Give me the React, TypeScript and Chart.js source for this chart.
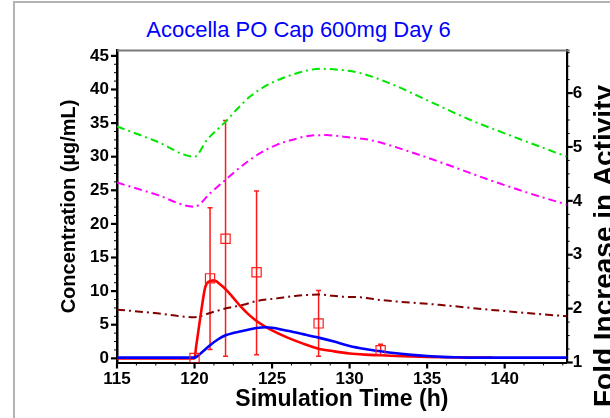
import React, { useEffect, useRef } from "react";
import { Chart, registerables } from "chart.js";

Chart.register(...registerables);

// ---- simulated plasma concentration (µg/mL) ----
const parentTime = [115, 116, 117, 118, 119, 120, 120.1, 120.38, 120.69, 120.9, 121.28, 121.6, 122, 122.5, 123, 123.5, 124, 124.5, 125, 126, 127, 128, 129, 130, 131, 132, 133, 134, 135, 136, 137, 138, 139.2];
const parentConc = [0, 0, 0, 0, 0, 0, 1.7, 6.2, 10.6, 11.4, 11.6, 11.1, 10.3, 9.0, 7.65, 6.5, 5.56, 4.8, 4.17, 3.08, 2.19, 1.44, 1.04, 0.72, 0.55, 0.45, 0.35, 0.28, 0.22, 0.17, 0.14, 0.12, 0.1];

const metaboliteTime = [115, 120, 120.2, 120.5, 121, 121.5, 122, 122.5, 123, 123.5, 124, 124.6, 125, 126, 127, 128, 129, 130, 131, 132, 133, 134, 135, 136, 137, 138, 139, 144];
const metaboliteConc = [0.1, 0.1, 0.35, 0.95, 1.95, 2.8, 3.43, 3.78, 4.02, 4.28, 4.5, 4.62, 4.55, 4.1, 3.6, 3.08, 2.5, 1.85, 1.4, 1.05, 0.75, 0.52, 0.35, 0.22, 0.15, 0.1, 0.1, 0.1];

// ---- observed concentrations with error bars ----
const obsTime = [120, 121, 122, 124, 128, 132];
const obsConc = [0.05, 11.9, 17.8, 12.8, 5.2, 1.2];
const obsLow = [0.05, 1.3, 0.3, 0.55, 0.3, 0.55];
const obsHigh = [0.05, 22.4, 35.4, 24.9, 10.1, 2.1];

// ---- fold increase in activity (right axis) ----
const foldATime = [115, 117.5, 120, 120.8, 122, 122.7, 123.6, 124.7, 125.7, 127, 128.1, 129.4, 130.7, 132.6, 135.2, 137.8, 140.3, 144];
const foldA = [5.38, 5.11, 4.82, 5.13, 5.47, 5.69, 5.94, 6.15, 6.28, 6.4, 6.45, 6.43, 6.37, 6.18, 5.84, 5.5, 5.22, 4.82];

const foldBTime = [115, 117.5, 120, 121, 122, 123.15, 124.2, 125.3, 126.4, 127.45, 128.5, 129.6, 131.3, 133.9, 136.5, 139, 141.6, 144];
const foldB = [4.34, 4.12, 3.89, 4.14, 4.39, 4.67, 4.88, 5.04, 5.14, 5.21, 5.22, 5.19, 5.13, 4.91, 4.65, 4.39, 4.14, 3.93];

const foldCTime = [115, 117.4, 120, 121, 122.1, 123.15, 124, 125.3, 126.6, 128, 129.6, 130.7, 132, 135.8, 139, 143.5, 144];
const foldC = [1.98, 1.92, 1.84, 1.92, 2.01, 2.07, 2.14, 2.19, 2.24, 2.26, 2.22, 2.21, 2.16, 2.07, 1.98, 1.87, 1.86];

// ---- axis ticks ----
const timeTicks = [115, 120, 125, 130, 135, 140];
const concTicks = [0, 5, 10, 15, 20, 25, 30, 35, 40, 45];
const foldTicks = [1, 2, 3, 4, 5, 6];
const MINOR_DIVISIONS = 4;

const TIME_MIN = 115, TIME_MAX = 144;
const CONC_MIN = -0.62, CONC_MAX = 45.8;
const FOLD_MIN = 1, FOLD_MAX = 6.79;

const FONT = '"Liberation Sans", Arial, Helvetica, sans-serif';

const pts = (xs: number[], ys: number[]) => xs.map((x, i) => ({ x, y: ys[i] }));

// major ticks plus evenly spaced minor ticks inside [min, max]
function tickValues(majors: number[], min: number, max: number) {
  const step = (majors[1] - majors[0]) / MINOR_DIVISIONS;
  const out: number[] = [];
  let v = majors[0];
  while (v - step >= min - 1e-9) v -= step;
  for (; v <= max + 1e-9; v += step) out.push(Math.round(v * 1000) / 1000);
  return out;
}
const isMajor = (majors: number[], v: number) => majors.some((m) => Math.abs(m - v) < 1e-6);

// tick marks (major + minor) and the top frame line
const axisMarks = {
  id: "axisMarks",
  afterDraw(chart: any) {
    const { ctx, chartArea: a, scales } = chart;
    ctx.save();
    ctx.strokeStyle = "#7a7a7a";
    ctx.lineWidth = 2;
    ctx.beginPath();
    ctx.moveTo(a.left, a.top);
    ctx.lineTo(a.right + 3, a.top);
    ctx.stroke();

    ctx.strokeStyle = "#000";
    const draw = (scale: any, majors: number[], side: "bottom" | "left" | "right") => {
      for (const t of scale.ticks) {
        const major = isMajor(majors, t.value);
        const len = major ? 6 : 3;
        ctx.lineWidth = major ? 2.2 : 1;
        const p = scale.getPixelForValue(t.value);
        ctx.beginPath();
        if (side === "bottom") {
          ctx.moveTo(p, a.bottom);
          ctx.lineTo(p, a.bottom + len);
        } else if (side === "left") {
          ctx.moveTo(a.left, p);
          ctx.lineTo(a.left - len, p);
        } else {
          ctx.moveTo(a.right, p);
          ctx.lineTo(a.right + len, p);
        }
        ctx.stroke();
      }
    };
    draw(scales.x, timeTicks, "bottom");
    draw(scales.y, concTicks, "left");
    draw(scales.y1, foldTicks, "right");
    ctx.restore();
  },
};

// vertical error bars for the observed points
const errorBars = {
  id: "errorBars",
  beforeDatasetsDraw(chart: any) {
    const { ctx, scales } = chart;
    ctx.save();
    ctx.strokeStyle = "#ff1a1a";
    ctx.lineWidth = 1.5;
    obsTime.forEach((t, i) => {
      if (obsHigh[i] - obsLow[i] < 0.2) return;
      const x = scales.x.getPixelForValue(t);
      const y1 = scales.y.getPixelForValue(obsLow[i]);
      const y2 = scales.y.getPixelForValue(obsHigh[i]);
      ctx.beginPath();
      ctx.moveTo(x, y1);
      ctx.lineTo(x, y2);
      ctx.moveTo(x - 2.5, y1);
      ctx.lineTo(x + 2.5, y1);
      ctx.moveTo(x - 2.5, y2);
      ctx.lineTo(x + 2.5, y2);
      ctx.stroke();
    });
    ctx.restore();
  },
};

// right-hand axis title, reading bottom to top
const rightTitle = {
  id: "rightTitle",
  afterDraw(chart: any) {
    const { ctx } = chart;
    ctx.save();
    ctx.translate(605, 246);
    ctx.rotate(-Math.PI / 2);
    ctx.font = `bold 28px ${FONT}`;
    ctx.fillStyle = "#000";
    ctx.textAlign = "center";
    ctx.textBaseline = "middle";
    ctx.fillText("Fold Increase in Activity", 0, 0);
    ctx.restore();
  },
};

const dashDot = [8, 4, 2, 4];

export default function App() {
  const ref = useRef<HTMLCanvasElement | null>(null);

  useEffect(() => {
    if (!ref.current) return;
    const tickFont = { family: FONT, size: 17, weight: "bold" as const };

    const chart = new Chart(ref.current, {
      type: "line",
      data: {
        datasets: [
          {
            label: "Observed",
            data: pts(obsTime, obsConc),
            yAxisID: "y",
            showLine: false,
            pointStyle: "rect",
            pointRadius: 6.5,
            pointBorderWidth: 1.2,
            borderColor: "#ff1a1a",
            backgroundColor: "rgba(0,0,0,0)",
          },
          {
            label: "Metabolite",
            data: pts(metaboliteTime, metaboliteConc),
            yAxisID: "y",
            borderColor: "#0000ff",
            borderWidth: 2.6,
            pointRadius: 0,
            cubicInterpolationMode: "monotone",
          },
          {
            label: "Parent",
            data: pts(parentTime, parentConc),
            yAxisID: "y",
            borderColor: "#ff0000",
            borderWidth: 2.6,
            pointRadius: 0,
            cubicInterpolationMode: "monotone",
          },
          {
            label: "Fold increase C",
            data: pts(foldCTime, foldC),
            yAxisID: "y1",
            borderColor: "#800000",
            borderWidth: 2,
            borderDash: dashDot,
            pointRadius: 0,
            cubicInterpolationMode: "monotone",
          },
          {
            label: "Fold increase B",
            data: pts(foldBTime, foldB),
            yAxisID: "y1",
            borderColor: "#ff00ff",
            borderWidth: 2,
            borderDash: dashDot,
            pointRadius: 0,
            cubicInterpolationMode: "monotone",
          },
          {
            label: "Fold increase A",
            data: pts(foldATime, foldA),
            yAxisID: "y1",
            borderColor: "#00e600",
            borderWidth: 2,
            borderDash: dashDot,
            pointRadius: 0,
            cubicInterpolationMode: "monotone",
          },
        ],
      },
      options: {
        responsive: false,
        animation: false,
        devicePixelRatio: 1,
        layout: { padding: { top: 50.5, left: 0, right: 0, bottom: 0 } },
        plugins: {
          legend: { display: false },
          tooltip: { enabled: false },
          title: { display: false },
        },
        scales: {
          x: {
            type: "linear",
            min: TIME_MIN,
            max: TIME_MAX,
            afterFit: (s: any) => {
              s.height = 55.5;
            },
            afterBuildTicks: (s: any) => {
              s.ticks = tickValues(timeTicks, TIME_MIN, TIME_MAX).map((value) => ({ value }));
            },
            ticks: {
              autoSkip: false,
              maxRotation: 0,
              padding: 6.5,
              color: "#000",
              font: tickFont,
              callback: (v: any) => (isMajor(timeTicks, v) ? String(v) : ""),
            },
            grid: { display: false, drawTicks: false },
            border: { display: true, color: "#000", width: 2 },
            title: {
              display: true,
              text: "Simulation Time (h)",
              color: "#000",
              font: { family: FONT, size: 23, weight: "bold" },
              padding: { top: 0, bottom: 5 },
            },
          },
          y: {
            type: "linear",
            position: "left",
            min: CONC_MIN,
            max: CONC_MAX,
            afterFit: (s: any) => {
              s.width = 117;
            },
            afterBuildTicks: (s: any) => {
              s.ticks = tickValues(concTicks, CONC_MIN, CONC_MAX).map((value) => ({ value }));
            },
            ticks: {
              autoSkip: false,
              padding: 8,
              color: "#000",
              font: tickFont,
              callback: (v: any) => (isMajor(concTicks, v) ? String(v) : ""),
            },
            grid: { display: false, drawTicks: false },
            border: { display: true, color: "#000", width: 2.5 },
            title: {
              display: true,
              text: "Concentration (µg/mL)",
              color: "#000",
              font: { family: FONT, size: 20, weight: "bold" },
              padding: { top: 57.5, bottom: 0 },
            },
          },
          y1: {
            type: "linear",
            position: "right",
            min: FOLD_MIN,
            max: FOLD_MAX,
            afterFit: (s: any) => {
              s.width = 43.3;
            },
            afterBuildTicks: (s: any) => {
              s.ticks = tickValues(foldTicks, FOLD_MIN, FOLD_MAX).map((value) => ({ value }));
            },
            ticks: {
              autoSkip: false,
              padding: 6,
              color: "#000",
              font: tickFont,
              callback: (v: any) => (isMajor(foldTicks, v) ? String(v) : ""),
            },
            grid: { display: false, drawTicks: false },
            border: { display: true, color: "#000", width: 2.2 },
            title: { display: false },
          },
        },
      },
      plugins: [errorBars, axisMarks, rightTitle],
    } as any);

    return () => chart.destroy();
  }, []);

  return (
    <div
      style={{
        position: "fixed",
        left: 0,
        top: 0,
        width: 610,
        height: 418,
        overflow: "hidden",
        background: "#fff",
      }}
    >
      <div
        style={{
          position: "absolute",
          left: 13,
          top: 1,
          width: 700,
          height: 500,
          borderLeft: "2px solid #b4b4b4",
          borderTop: "2px solid #b4b4b4",
        }}
      />
      <div
        style={{
          position: "absolute",
          left: 0,
          top: 19,
          width: 597,
          textAlign: "center",
          font: `22px ${FONT}`,
          lineHeight: "22px",
          color: "#0000ff",
          whiteSpace: "nowrap",
        }}
      >
        Acocella PO Cap 600mg Day 6
      </div>
      <canvas
        ref={ref}
        width={610}
        height={418}
        style={{ position: "absolute", left: 0, top: 0, width: 610, height: 418 }}
      />
    </div>
  );
}
